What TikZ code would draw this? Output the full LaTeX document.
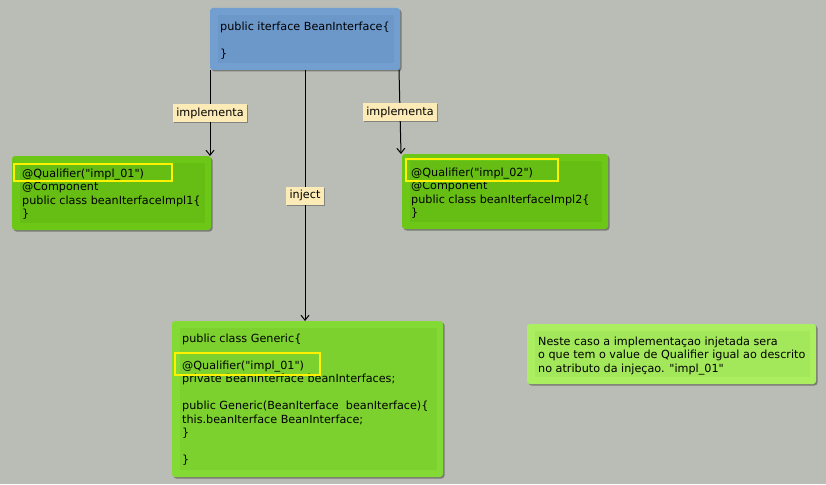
\documentclass[tikz,border=0pt]{standalone}
\usepackage{fontspec}
\setmainfont{DejaVu Sans}[Ligatures=TeXOff]
\usetikzlibrary{shadows,arrows.meta}

\definecolor{canvas}{HTML}{BABDB6}
\definecolor{ifaceblue}{HTML}{729FCF}
\definecolor{ifaceinner}{HTML}{6B97C9}
\definecolor{implgreen}{HTML}{6DC716}
\definecolor{implinner}{HTML}{66BD13}
\definecolor{genericgreen}{HTML}{84DA35}
\definecolor{genericinner}{HTML}{7CD12F}
\definecolor{notegreen}{HTML}{ABEF60}
\definecolor{noteinner}{HTML}{A3E75A}
\definecolor{tagfill}{HTML}{FCEBB6}

\begin{document}
\begin{tikzpicture}[x=1pt,y=-1pt,
    box/.style={anchor=north west, inner sep=0pt, outer sep=0pt, rounded corners=3pt,
      drop shadow={shadow xshift=1.5pt, shadow yshift=-1.5pt, fill=black, opacity=0.35},
      path picture={\fill[#1, sharp corners] ([shift={(8,7)}]path picture bounding box.north west)
        rectangle ([shift={(-6,-7)}]path picture bounding box.south east);}},
    code/.style={anchor=north west, inner sep=0pt, align=left, font=\fontsize{11.2}{13.5}\selectfont},
    tag/.style={fill=tagfill, inner xsep=3.5pt, inner ysep=0pt, minimum height=18pt,
      font=\fontsize{11.2}{13.5}\selectfont,
      drop shadow={shadow xshift=1pt, shadow yshift=-1pt, fill=black, opacity=0.3}},
    arr/.style={line width=1pt, -{Straight Barb[length=5pt,width=8pt]}},
    hilite/.style={draw=yellow, line width=2pt}]

  \fill[canvas] (0,0) rectangle (826,484);
  \useasboundingbox (0,0) rectangle (826,484);

  % boxes
  \node[box=ifaceinner, fill=ifaceblue, minimum width=190pt, minimum height=62pt] (iface) at (210,8) {};
  \node[box=implinner, fill=implgreen, minimum width=199pt, minimum height=74pt] (implA) at (12,156) {};
  \node[box=implinner, fill=implgreen, minimum width=206pt, minimum height=75pt] (implB) at (402,154) {};
  \node[box=genericinner, fill=genericgreen, minimum width=271pt, minimum height=156pt] (generic) at (172,321) {};
  \node[box=noteinner, fill=notegreen, minimum width=289pt, minimum height=60pt] (note) at (527,324) {};

  % texts
  \node[code] (ifaceTxt) at ([shift={(10,13.5)}]iface.north west) {public iterface BeanInterface\{\\[13.5pt]\}};
  \node[code] (implATxt) at ([shift={(10,12.5)}]implA.north west)
    {@Qualifier("impl\_01")\\@Component\\public class beanIterfaceImpl1\{\\\}};
  \node[code] (implBTxt) at ([shift={(9,13.5)}]implB.north west)
    {@Qualifier("impl\_02")\\@Component\\public class beanIterfaceImpl2\{\\\}};
  \node[code] (genericTxt) at ([shift={(10,12.5)}]generic.north west)
    {public class Generic\{\\[13.5pt]
     @Qualifier("impl\_01")\\
     private BeanInterface beanInterfaces;\\[13.5pt]
     public Generic(BeanIterface\ \ beanIterface)\{\\
     this.beanIterface BeanInterface;\\
     \}\\[13.5pt]
     \}};
  \node[code] (noteTxt) at ([shift={(11,12.5)}]note.north west)
    {Neste caso a implementaçao injetada sera\\
     o que tem o value de Qualifier igual ao descrito\\
     no atributo da injeçao. "impl\_01"};

  % qualifier marks
  \draw[hilite] (14,164) rectangle (172,181);
  \draw[hilite] (406,159) rectangle (558,181);
  \draw[hilite] (175,353) rectangle (320,375);

  % links
  \draw[arr] (iface.south west) -- node[tag] {implementa} (iface.south west |- implA.north);
  \draw[arr] (iface.south) -- node[tag] {inject} (iface.south |- generic.north);
  \draw[arr] ([xshift=-1pt]iface.south east) -- node[tag] {implementa} ([xshift=-1pt]implB.north west);
\end{tikzpicture}
\end{document}
